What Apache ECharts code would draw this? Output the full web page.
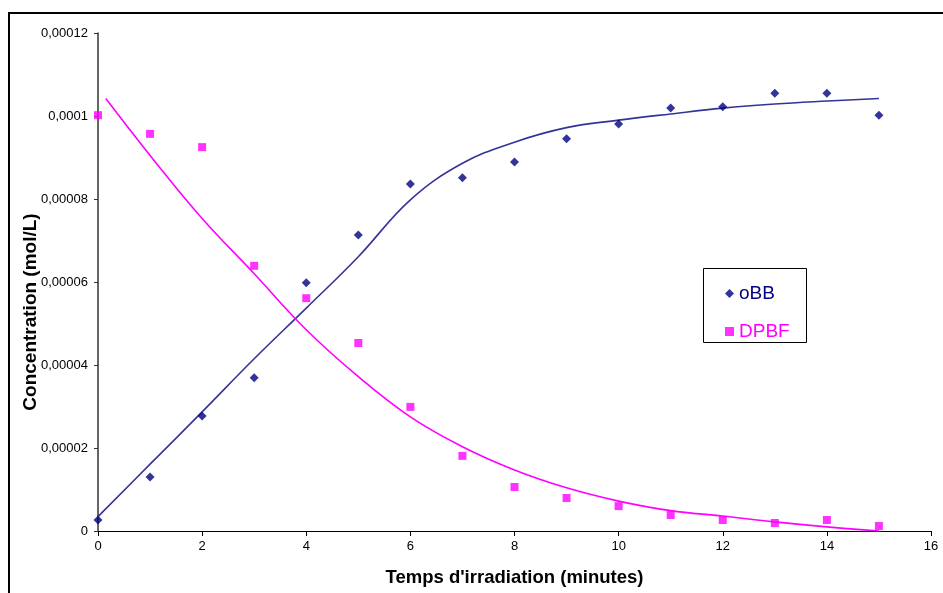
<!DOCTYPE html>
<html>
<head>
<meta charset="utf-8">
<script src="https://cdn.jsdelivr.net/npm/echarts@6/dist/echarts.min.js"></script>
<style>
html,body{margin:0;padding:0;background:#fff;}
#chart{width:943px;height:593px;}
</style>
</head>
<body>
<div id="chart"></div>
<script>
// Measured points
var minutes = [0,1,2,3,4,5,6,7,8,9,10,11,12,13,14,15];
var oBB  = [2.65e-6,1.30e-5,2.77e-5,3.69e-5,5.98e-5,7.13e-5,8.36e-5,8.51e-5,8.89e-5,9.45e-5,9.81e-5,1.019e-4,1.022e-4,1.055e-4,1.055e-4,1.002e-4];
var DPBF = [1.002e-4,9.57e-5,9.25e-5,6.39e-5,5.61e-5,4.53e-5,2.99e-5,1.81e-5,1.06e-5,7.95e-6,6.0e-6,3.86e-6,2.65e-6,1.93e-6,2.65e-6,1.2e-6];

// Trend curves
var oBBTrendX = [0,1,2,3,4,5,6,7,8,9,10,11,12,13,14,15];
var oBBTrendY = [3.45e-6,1.61e-5,2.87e-5,4.15e-5,5.37e-5,6.61e-5,7.98e-5,8.86e-5,9.37e-5,9.72e-5,9.9e-5,1.005e-4,1.019e-4,1.029e-4,1.036e-4,1.042e-4];
var DPBFTrendX = [0.15,1,2,3,4,5,6,7,8,9,10,11,12,13,14,15];
var DPBFTrendY = [1.042e-4,9.05e-5,7.53e-5,6.2e-5,4.85e-5,3.72e-5,2.75e-5,2.03e-5,1.47e-5,1.04e-5,7.2e-6,4.9e-6,3.6e-6,2.2e-6,1.0e-6,0];

var yTickLabels = ['0','0,00002','0,00004','0,00006','0,00008','0,0001','0,00012'];
var yAxisTitle = 'Concentration (mol/L)';
var xAxisTitle = "Temps d'irradiation (minutes)";

function pairs(xs, ys){ return xs.map(function(x,i){ return [x, ys[i]]; }); }

var chart = echarts.init(document.getElementById('chart'), null, {renderer:'canvas'});
var font = 'Liberation Sans, Arial, sans-serif';
chart.setOption({
  animation:false,
  backgroundColor:'#fff',
  grid:{left:98, top:33, right:12, bottom:62, containLabel:false},
  xAxis:{
    type:'value', min:0, max:16, interval:2,
    name:xAxisTitle, nameLocation:'middle', nameGap:37,
    nameTextStyle:{fontFamily:font, fontSize:18.5, fontWeight:'bold', color:'#000'},
    axisLine:{show:true, onZero:false, lineStyle:{color:'#000', width:1}},
    axisTick:{show:true, length:5, inside:false, lineStyle:{color:'#000'}},
    axisLabel:{fontFamily:font, fontSize:13, color:'#000', margin:9},
    splitLine:{show:false}
  },
  yAxis:{
    type:'value', min:0, max:0.00012, interval:0.00002,
    axisLine:{show:true, onZero:false, lineStyle:{color:'#333', width:1.5}},
    axisTick:{show:true, length:4, lineStyle:{color:'#333'}},
    axisLabel:{fontFamily:font, fontSize:13, color:'#000', margin:10,
      formatter:function(v){ var i=Math.round(v/0.00002); return yTickLabels[i]; }},
    splitLine:{show:false}
  },
  legend:{
    left:720, top:279, orient:'vertical', itemGap:19, itemWidth:9, itemHeight:9,
    textStyle:{fontFamily:font, fontSize:19},
    data:[
      {name:'oBB', icon:'diamond', textStyle:{color:'#000080'}},
      {name:'DPBF', icon:'rect', textStyle:{color:'#FF00FF'}}
    ]
  },
  graphic:[
    {type:'rect', silent:true, z:-1, shape:{x:9, y:13, width:1000, height:1000}, style:{fill:'none', stroke:'#000', lineWidth:2}},
    {type:'rect', silent:true, z:100, shape:{x:703.5, y:268.5, width:103, height:74}, style:{fill:'none', stroke:'#000', lineWidth:1}},
    {type:'text', silent:true, x:31, y:312, rotation:Math.PI/2,
      style:{text:yAxisTitle, font:'bold 19px ' + font, fill:'#000', textAlign:'center', textVerticalAlign:'middle'}}
  ],
  series:[
    {name:'oBB trend', type:'line', data:pairs(oBBTrendX,oBBTrendY), smooth:0.4, showSymbol:false, symbol:'none',
      lineStyle:{color:'#333399', width:1.6}, z:2, silent:true},
    {name:'DPBF trend', type:'line', data:pairs(DPBFTrendX,DPBFTrendY), smooth:0.4, showSymbol:false, symbol:'none',
      lineStyle:{color:'#FF00FF', width:1.6}, z:2, silent:true},
    {name:'oBB', type:'scatter', data:pairs(minutes,oBB), symbol:'diamond', symbolSize:9,
      itemStyle:{color:'#000080'}, z:3},
    {name:'DPBF', type:'scatter', data:pairs(minutes,DPBF), symbol:'rect', symbolSize:8,
      itemStyle:{color:'#FF00FF'}, z:3}
  ]
});
</script>
</body>
</html>
